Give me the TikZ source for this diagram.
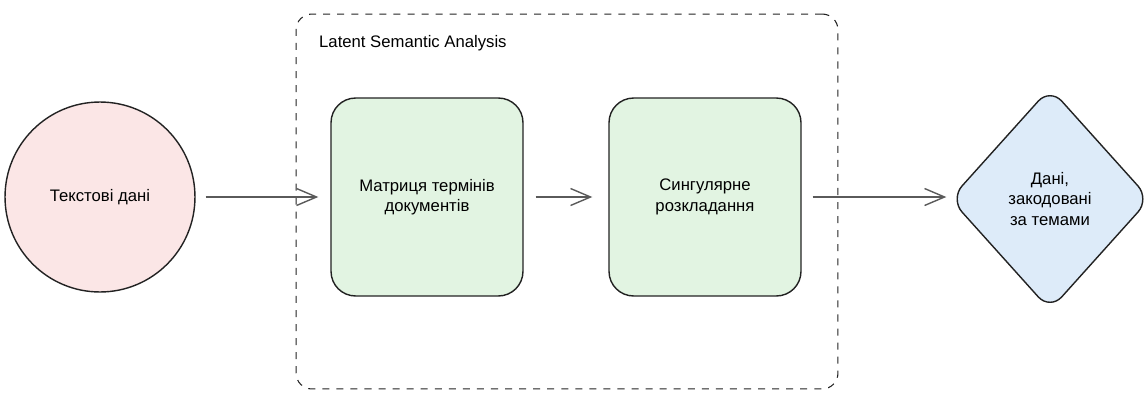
\documentclass[tikz,border=0pt]{standalone}
\usepackage{fontspec}
\setmainfont{Liberation Sans}
\usetikzlibrary{arrows.meta,positioning,shapes.geometric}
\definecolor{lsaInk}{RGB}{34,34,34}
\definecolor{lsaArrow}{RGB}{90,90,90}
\definecolor{lsaPink}{RGB}{251,230,230}
\definecolor{lsaGreen}{RGB}{226,244,226}
\definecolor{lsaBlue}{RGB}{221,235,249}
\tikzset{
  source/.style={circle, draw=lsaInk, thick, fill=lsaPink, minimum size=3.8cm,
    align=center, font=\fontsize{9.5}{11.5}\selectfont},
  stage/.style={draw=lsaInk, thick, rounded corners=14pt, fill=lsaGreen,
    minimum width=3.84cm, minimum height=3.96cm, align=center, font=\fontsize{9.5}{11.5}\selectfont},
  result/.style={diamond, draw=lsaInk, thick, rounded corners=10pt, fill=lsaBlue,
    minimum width=4cm, minimum height=4.45cm, align=center, font=\fontsize{9.5}{11.5}\selectfont},
  frame/.style={draw=lsaInk, semithick, dash pattern=on 4pt off 4pt, rounded corners=9pt,
    minimum width=10.84cm, minimum height=7.5cm},
  flow/.style={-{Straight Barb[length=4mm,width=3.4mm]}, thick, draw=lsaArrow}
}

\begin{document}
\begin{tikzpicture}[x=0.02cm,y=-0.02cm]
    \useasboundingbox (0,0) rectangle (1145,392);
    % LSA group
    \node[frame] (lsa) at (567,201.5) {};
    \node[anchor=west, font=\fontsize{9.5}{11.5}\selectfont] (lsatitle) at (313,43) {Latent Semantic Analysis};
    \node[source] (texts) at (100,197) {Текстові дані};
    \node[stage] (tdm) at (427,197) {Матриця термінів\\документів};
    \node[stage] (svd) at (705,197) {Сингулярне\\розкладання};
    \node[result] (topics) at (1050,199) {Дані,\\закодовані\\за темами};
    \draw[flow, shorten <=0.2cm, shorten >=0.24cm] (texts.east) -- (tdm.west);
    \draw[flow, shorten <=0.24cm, shorten >=0.32cm] (tdm.east) -- (svd.west);
    \draw[flow, shorten <=0.22cm, shorten >=0.06cm] (svd.east) -- (topics.west |- svd.east);
  \end{tikzpicture}
\end{document}
